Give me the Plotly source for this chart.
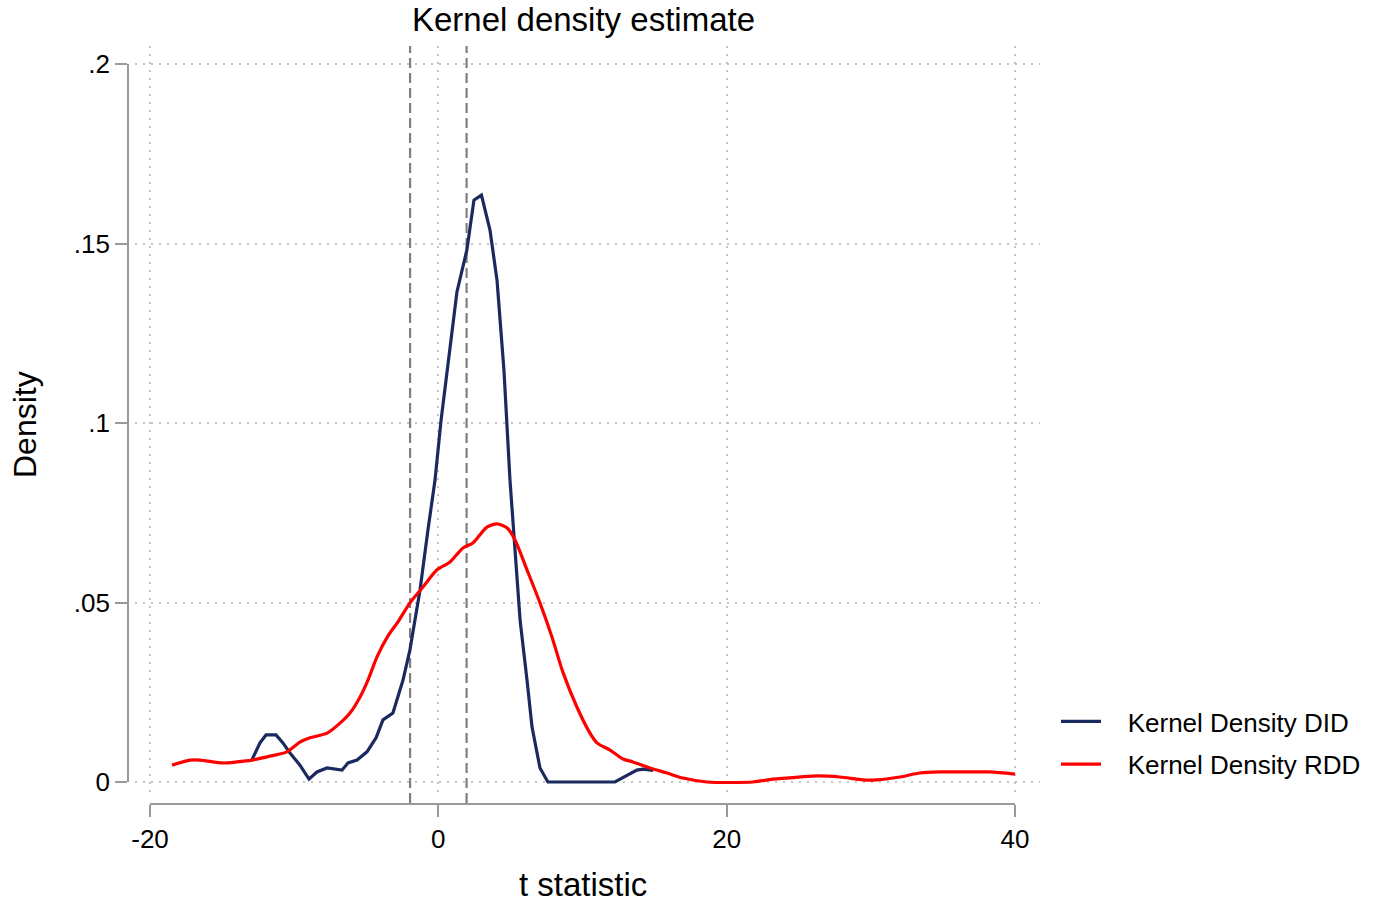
import plotly.graph_objects as go

# ---- data ----
did_t = [-12.94, -12.37, -11.95, -11.26, -10.78, -10.29, -9.6, -8.97, -8.42, -7.72, -6.68, -6.27,
         -5.64, -4.95, -4.32, -3.84, -3.15, -2.45, -1.97, -1.27, -0.72, -0.23, 0.19, 0.6, 1.29,
         1.98, 2.47, 2.99, 3.58, 4.07, 4.55, 4.97, 5.32, 5.67, 6.15, 6.5, 7.05, 7.6, 12.25,
         12.94, 13.77, 14.2, 14.9]
did_d = [0.0061, 0.0109, 0.0131, 0.0131, 0.0109, 0.0081, 0.0047, 0.0008, 0.0028, 0.0039, 0.0033,
         0.0053, 0.0061, 0.0084, 0.0123, 0.0173, 0.0192, 0.0284, 0.0368, 0.0535, 0.0702, 0.0841,
         0.1008, 0.1148, 0.1365, 0.1482, 0.1621, 0.1635, 0.1538, 0.1398, 0.1148, 0.0841, 0.0655,
         0.0451, 0.0284, 0.0153, 0.0039, 0.0, 0.0, 0.0014, 0.0033, 0.0036, 0.0032]

rdd_t = [-18.47, -17.22, -16.53, -14.94, -13.96, -12.93, -11.68, -10.5, -9.6, -8.9, -7.72, -6.82,
         -6.13, -5.43, -4.88, -4.26, -3.49, -2.8, -1.97, -1.07, -0.09, 0.81, 1.71, 2.4, 3.37, 4.07,
         4.76, 5.32, 6.15, 7.05, 7.88, 8.64, 9.61, 10.52, 11.0, 11.91, 12.81, 13.5, 14.68, 15.86,
         16.97, 18.63, 21.83, 23.2, 25.08, 26.25, 27.85, 29.44, 30.41, 32.01, 33.4, 34.79, 36.66,
         38.26, 40.0]
rdd_d = [0.0047, 0.0061, 0.0061, 0.0053, 0.0056, 0.0061, 0.0072, 0.0084, 0.0111, 0.0123, 0.0136,
         0.0164, 0.0192, 0.0237, 0.0284, 0.0348, 0.0407, 0.0446, 0.0499, 0.0543, 0.0591, 0.0613,
         0.0652, 0.0666, 0.0710, 0.0719, 0.0708, 0.0674, 0.0591, 0.0499, 0.0404, 0.0306, 0.0209,
         0.0136, 0.0109, 0.0089, 0.0064, 0.0056, 0.0039, 0.0025, 0.0011, 0.0, 0.0, 0.0008, 0.0014,
         0.0017, 0.0014, 0.0006, 0.0006, 0.0014, 0.0025, 0.0028, 0.0028, 0.0028, 0.0022]

x_ticks = [-20, 0, 20, 40]
x_ticktext = ["-20", "0", "20", "40"]
y_ticks = [0, 0.05, 0.1, 0.15, 0.2]
y_ticktext = ["0", ".05", ".1", ".15", ".2"]
crit_vals = [-1.96, 1.96]
series_names = ["Kernel Density DID", "Kernel Density RDD"]

# ---- geometry helpers (pixel layout of the 1386x902 page) ----
W, H = 1386, 902
FONT = "Liberation Sans, Arial, Helvetica, sans-serif"
NAVY = "#1b2a5e"
AXIS_GRAY = "#9a9a9a"
GRID_GRAY = "#c4c4c4"
NB = "\u00a0"

def px_x(p):
    return p / W

def px_y(p):
    return (H - p) / H

# data <-> pixel: x: -20 -> 150px, 40 -> 1015px ; y: 0 -> 782px, 0.2 -> 64px
XPX0, XPX1 = 150.0, 1015.0
YPX0, YPX1 = 782.0, 64.0
sx = (XPX1 - XPX0) / 60.0
sy = (YPX0 - YPX1) / 0.2

def x_at(p):
    return -20 + (p - XPX0) / sx

def y_at(p):
    return (YPX0 - p) / sy

# main (data + grid) area
MX0, MX1 = 135, 1040
MY_TOP, MY_BOT = 46, 796

fig = go.Figure()
fig.add_trace(go.Scatter(x=did_t, y=did_d, mode="lines", name=NB * 3 + series_names[0],
                         legendgroup="a",
                         line=dict(color=NAVY, width=3.2)))
fig.add_trace(go.Scatter(x=rdd_t, y=rdd_d, mode="lines", name=NB * 3 + series_names[1],
                         legendgroup="b",
                         line=dict(color="#ff0000", width=3.2, shape="spline", smoothing=0.7)))
# carrier trace for the visible (offset) axes
fig.add_trace(go.Scatter(x=[None], y=[None], xaxis="x2", yaxis="y2", showlegend=False,
                         hoverinfo="skip", mode="lines"))

for v in crit_vals:
    fig.add_shape(type="line", xref="x", yref="paper", x0=v, x1=v,
                  y0=px_y(803), y1=px_y(46),
                  line=dict(color="#808080", width=2.2, dash="10px,5px"), layer="below")

common_off = dict(automargin=False)
fig.update_layout(
    template="none",
    width=W, height=H,
    margin=dict(l=0, r=0, t=0, b=0, pad=0, autoexpand=False),
    paper_bgcolor="white", plot_bgcolor="rgba(0,0,0,0)",
    font=dict(family=FONT, color="black"),
    xaxis=dict(domain=[px_x(MX0), px_x(MX1)], range=[x_at(MX0), x_at(MX1)],
               tickvals=x_ticks, showticklabels=False, ticks="", showline=False,
               zeroline=False, showgrid=True, gridcolor=GRID_GRAY, gridwidth=1.5,
               griddash="2px,6px", **common_off),
    yaxis=dict(domain=[px_y(MY_BOT), px_y(MY_TOP)], range=[y_at(MY_BOT), y_at(MY_TOP)],
               tickvals=y_ticks, showticklabels=False, ticks="", showline=False,
               zeroline=False, showgrid=True, gridcolor=GRID_GRAY, gridwidth=1.5,
               griddash="2px,6px", **common_off),
    xaxis2=dict(domain=[px_x(XPX0), px_x(XPX1)], range=[-20, 40], anchor="free",
                position=px_y(804), tickvals=x_ticks, ticktext=x_ticktext,
                showline=True, linecolor=AXIS_GRAY, linewidth=1.6,
                ticks="outside", ticklen=12, tickwidth=1.6, tickcolor=AXIS_GRAY,
                showgrid=False, zeroline=False, tickfont=dict(size=26, family=FONT),
                **common_off),
    yaxis2=dict(domain=[px_y(YPX0), px_y(YPX1)], range=[0, 0.2], anchor="free",
                position=px_x(128), tickvals=y_ticks, ticktext=y_ticktext,
                showline=True, linecolor=AXIS_GRAY, linewidth=1.6,
                ticks="outside", ticklen=12, tickwidth=1.6, tickcolor=AXIS_GRAY,
                showgrid=False, zeroline=False, tickfont=dict(size=26, family=FONT),
                **common_off),
    legend=dict(x=px_x(1056), y=px_y(698), xanchor="left", yanchor="top",
                font=dict(size=26, family=FONT), bgcolor="rgba(0,0,0,0)",
                itemwidth=40, traceorder="grouped", tracegroupgap=6),
    showlegend=True,
)

fig.add_annotation(text="Kernel density estimate", x=px_x(583), y=px_y(19), xref="paper",
                   yref="paper", showarrow=False, xanchor="center", yanchor="middle",
                   font=dict(size=33, family=FONT))
fig.add_annotation(text="t statistic", x=px_x(583), y=px_y(884), xref="paper",
                   yref="paper", showarrow=False, xanchor="center", yanchor="middle",
                   font=dict(size=33, family=FONT))
fig.add_annotation(text="Density", x=px_x(25), y=px_y(424), xref="paper",
                   yref="paper", showarrow=False, xanchor="center", yanchor="middle",
                   textangle=-90, font=dict(size=32, family=FONT))

fig.write_html("out.html", config={"displayModeBar": False},
               post_script="document.body.style.margin='0px';document.body.style.overflow='hidden';")
